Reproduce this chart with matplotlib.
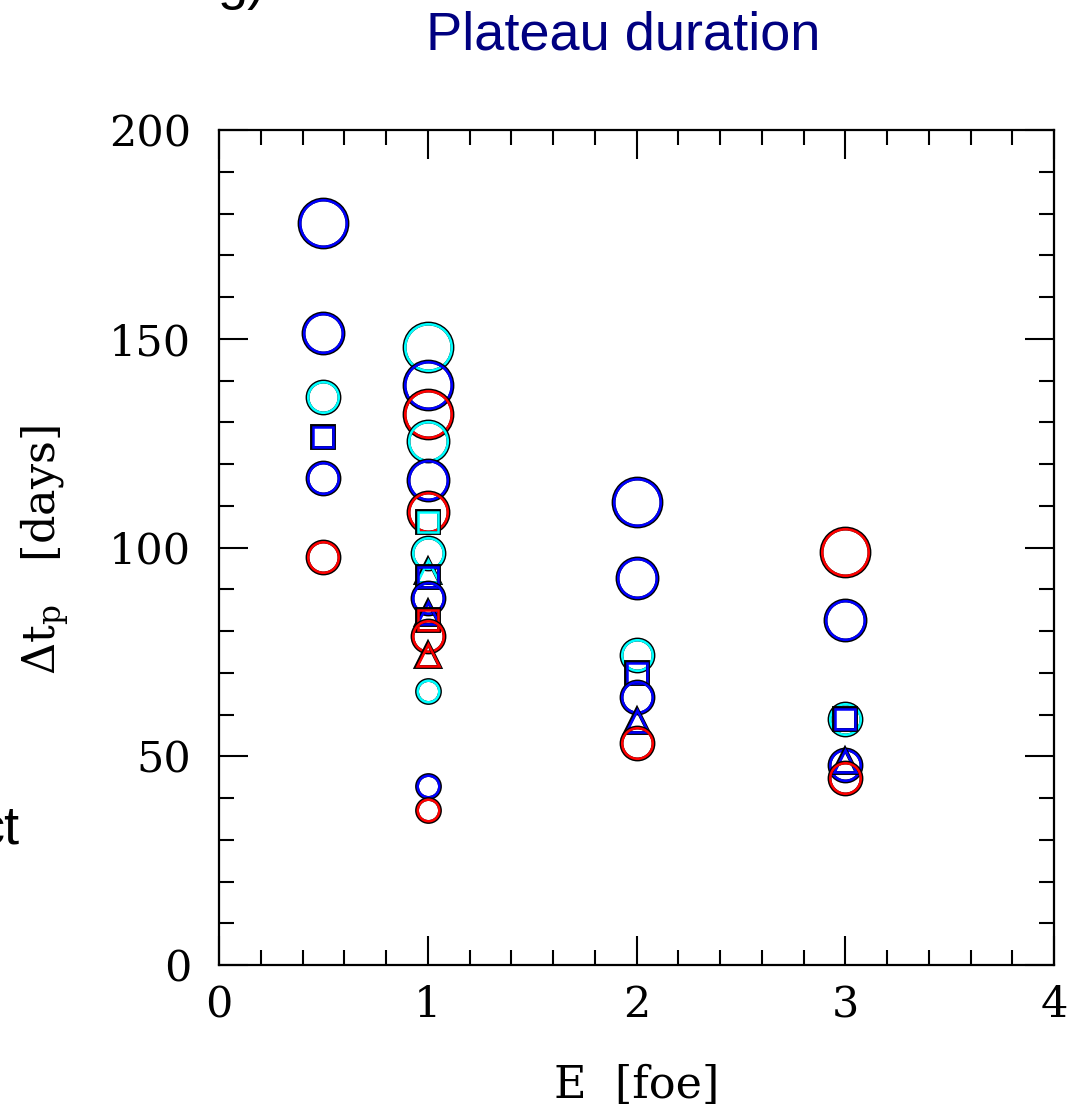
import matplotlib
matplotlib.use("Agg")
import matplotlib.pyplot as plt
from matplotlib.ticker import MultipleLocator

# explosion energy [foe] and plateau duration [days]
energy = [0.5, 0.5, 0.5, 0.5, 0.5, 0.5,
          1, 1, 1, 1, 1, 1, 1, 1, 1, 1, 1, 1, 1, 1, 1, 1, 1, 1,
          2, 2, 2, 2, 2, 2, 2,
          3, 3, 3, 3, 3, 3, 3]
duration = [177.7, 151.4, 136.0, 126.5, 116.6, 97.7,
            148.0, 138.9, 132.0, 125.5, 116.2, 108.5, 106.1, 98.7, 94.4, 93.0,
            87.9, 84.3, 82.6, 78.8, 74.3, 65.6, 42.9, 37.1,
            110.9, 92.7, 74.3, 69.9, 64.2, 58.4, 53.2,
            98.9, 82.6, 58.9, 58.9, 47.9, 48.9, 44.8]
# model family (colour), model kind (symbol), size class of the circles
family = ["b", "b", "c", "b", "b", "r",
          "c", "b", "r", "c", "b", "r", "c", "c", "c", "b",
          "b", "b", "r", "r", "r", "c", "b", "r",
          "b", "b", "c", "b", "b", "b", "r",
          "r", "b", "c", "b", "b", "b", "r"]
kind = ["o", "o", "o", "s", "o", "o",
        "o", "o", "o", "o", "o", "o", "s", "o", "^", "s",
        "o", "^", "s", "o", "^", "o", "o", "o",
        "o", "o", "o", "s", "o", "^", "o",
        "o", "o", "o", "s", "o", "^", "o"]
size_class = [4, 3, 2, 0, 2, 2,
              4, 4, 4, 3, 3, 3, 0, 2, 0, 0,
              2, 0, 0, 2, 0, 1, 1, 1,
              4, 3, 2, 0, 2, 0, 2,
              4, 3, 2, 0, 2, 0, 2]

colors = {"b": "#0000ff", "c": "#00ffff", "r": "#ff0000"}
circle_ms = {1: 16.5, 2: 23.0, 3: 28.8, 4: 34.5}
other_ms = {"s": 15.5, "^": 17.5}

plt.rcParams["mathtext.fontset"] = "dejavuserif"

fig = plt.figure(figsize=(10.7, 11.1), dpi=100)
ax = fig.add_axes([219 / 1070, 145 / 1110, 835 / 1070, 835 / 1110])

# black outline first, coloured ring just inside it
for x, y, f, k, sc in zip(energy, duration, family, kind, size_class):
    ms = circle_ms[sc] if k == "o" else other_ms[k]
    ax.plot(x, y, marker=k, ms=ms, mfc="none", mec="black", mew=2.8, ls="none")
    ax.plot(x, y, marker=k, ms=ms - 1.0, mfc="none", mec=colors[f], mew=1.8, ls="none")

ax.set_xlim(0, 4)
ax.set_ylim(0, 200)
ax.xaxis.set_major_locator(MultipleLocator(1))
ax.xaxis.set_minor_locator(MultipleLocator(0.2))
ax.yaxis.set_major_locator(MultipleLocator(50))
ax.yaxis.set_minor_locator(MultipleLocator(10))
ax.tick_params(which="both", direction="in", top=True, right=True, width=1.5)
ax.tick_params(which="major", length=21)
ax.tick_params(which="minor", length=10.5)
ax.tick_params(axis="y", which="major", pad=20)
ax.tick_params(axis="x", which="major", pad=14)
for lab in ax.get_xticklabels() + ax.get_yticklabels():
    lab.set_fontfamily("DejaVu Serif")
    lab.set_fontsize(31)
for sp in ax.spines.values():
    sp.set_linewidth(1.6)

fig.text(637 / 1070, 1 - 1085 / 1110, "E  [foe]", family="DejaVu Serif", fontsize=32,
         ha="center", va="center")
fig.text(45 / 1070, 1 - 550 / 1110, r"$\Delta\mathrm{t}_\mathrm{p}$   [days]",
         family="DejaVu Serif", fontsize=32, rotation=90, ha="center", va="center")

fig.text(623 / 1070, 1 - 50 / 1110, "Plateau duration", family="Liberation Sans",
         fontsize=39, color="#000080", ha="center", va="baseline")
fig.text(218 / 1070, 1.0 + 1 / 1110, "g)", family="Liberation Sans", fontsize=39,
         ha="left", va="baseline")
fig.text(20 / 1070, 1 - 843 / 1110, "ct", family="Liberation Sans", fontsize=39,
         ha="right", va="baseline")

fig.savefig("out.png", dpi=100)
